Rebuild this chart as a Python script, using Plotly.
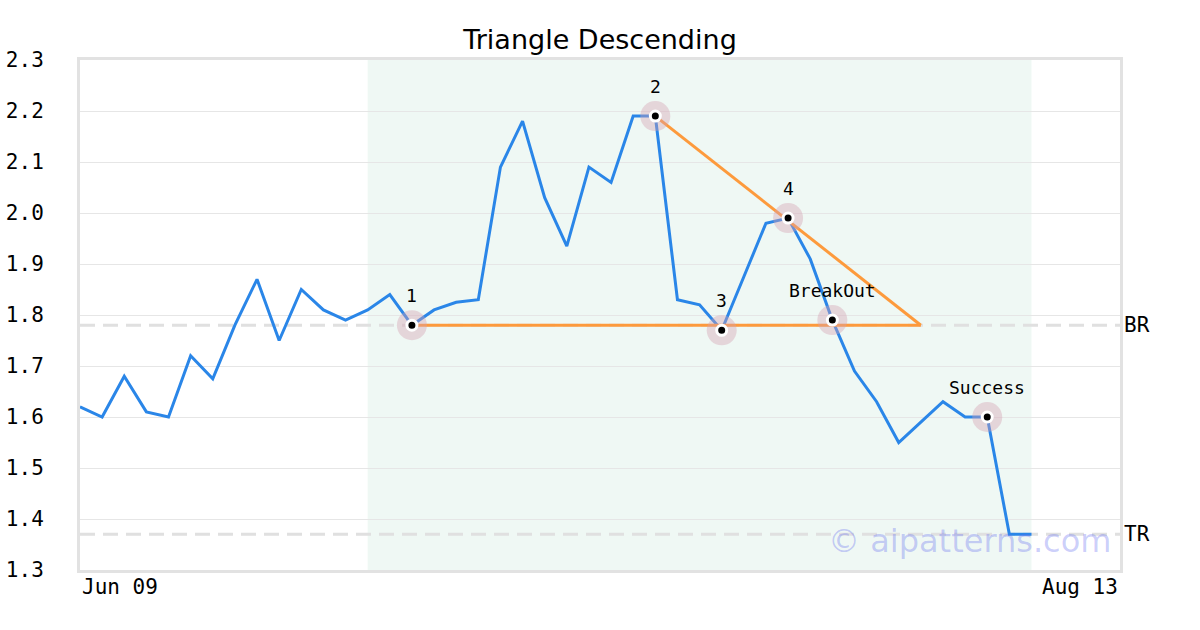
import plotly.graph_objects as go

# ---- data ----
title = "Triangle Descending"
x_tick_labels = ["Jun 09", "Aug 13"]
x_tick_pos = [0, 47]
prices = [1.62, 1.60, 1.68, 1.61, 1.60, 1.72, 1.675, 1.78, 1.87, 1.75,
          1.85, 1.81, 1.79, 1.81, 1.84, 1.78, 1.81, 1.825, 1.83, 2.09,
          2.18, 2.03, 1.935, 2.09, 2.06, 2.19, 2.19, 1.83, 1.82, 1.77,
          1.875, 1.98, 1.99, 1.91, 1.79, 1.69, 1.63, 1.55, 1.59, 1.63,
          1.60, 1.60, 1.37, 1.37]
idx = list(range(len(prices)))
pattern_start, pattern_end = 13, 43
point_labels = ["1", "2", "3", "4", "BreakOut", "Success"]
point_idx = [15, 26, 29, 32, 34, 41]
point_vals = [1.78, 2.19, 1.77, 1.99, 1.79, 1.60]
support_x = [15, 38]
support_y = [1.78, 1.78]
resist_x = [26, 38]
resist_y = [2.19, 1.78]
level_names = ["BR", "TR"]
level_vals = [1.78, 1.37]
y_ticks = [1.3, 1.4, 1.5, 1.6, 1.7, 1.8, 1.9, 2.0, 2.1, 2.2, 2.3]

MONO = "DejaVu Sans Mono"
SANS = "DejaVu Sans"

fig = go.Figure()

# price line
fig.add_trace(go.Scatter(x=idx, y=prices, mode="lines",
                         line=dict(color="#2a86e8", width=3),
                         hoverinfo="skip", showlegend=False))
# triangle lines
fig.add_trace(go.Scatter(x=support_x, y=support_y, mode="lines",
                         line=dict(color="#fd9a3c", width=3),
                         hoverinfo="skip", showlegend=False))
fig.add_trace(go.Scatter(x=resist_x, y=resist_y, mode="lines",
                         line=dict(color="#fd9a3c", width=3),
                         hoverinfo="skip", showlegend=False))
# halos
fig.add_trace(go.Scatter(x=point_idx, y=point_vals, mode="markers",
                         marker=dict(size=30, color="rgba(212,160,178,0.40)",
                                     line=dict(width=0)),
                         hoverinfo="skip", showlegend=False))
# dots
fig.add_trace(go.Scatter(x=point_idx, y=point_vals, mode="markers",
                         marker=dict(size=10, color="black",
                                     line=dict(width=3, color="white")),
                         hoverinfo="skip", showlegend=False))

shapes = [dict(type="rect", xref="x", yref="paper", x0=pattern_start, x1=pattern_end,
               y0=0, y1=1, fillcolor="#eff8f4", line=dict(width=0), layer="below")]
for v in level_vals:
    shapes.append(dict(type="line", xref="paper", yref="y", x0=0, x1=1, y0=v, y1=v,
                       line=dict(color="#e0e0e0", width=3, dash="15px,8px"),
                       layer="below"))

annotations = []
for lbl, xi, yv in zip(point_labels, point_idx, point_vals):
    annotations.append(dict(x=xi, y=yv, xref="x", yref="y", text=lbl, showarrow=False,
                            yshift=30, font=dict(family=MONO, size=18, color="black")))
for name, v in zip(level_names, level_vals):
    annotations.append(dict(x=1, y=v, xref="paper", yref="y", text=name, showarrow=False,
                            xanchor="left", xshift=2,
                            font=dict(family=MONO, size=21, color="black")))
for lbl, xp, anc in zip(x_tick_labels, x_tick_pos, ["left", "right"]):
    annotations.append(dict(x=xp, y=0, xref="x", yref="paper", text=lbl, showarrow=False,
                            xanchor=anc, yanchor="middle", yshift=-17,
                            font=dict(family=MONO, size=21, color="black")))
annotations.append(dict(x=0.855, y=1.37, xref="paper", yref="y", text="© aipatterns.com",
                        showarrow=False, xanchor="center", yanchor="middle", yshift=-7,
                        font=dict(family=SANS, size=32, color="rgba(95,105,240,0.33)")))

fig.update_layout(
    width=1200, height=630,
    margin=dict(l=80, r=80, t=60, b=60, autoexpand=False),
    paper_bgcolor="white", plot_bgcolor="white",
    title=dict(text=title, x=0.5, xanchor="center", y=1 - 40 / 630, yanchor="middle",
               font=dict(family=SANS, size=27, color="black")),
    shapes=shapes, annotations=annotations,
    xaxis=dict(range=[0, 47], showgrid=False, zeroline=False, showticklabels=False,
               automargin=False,
               showline=True, linecolor="#e2e2e2", linewidth=3, mirror=True, ticks=""),
    yaxis=dict(range=[1.3, 2.3], tickvals=y_ticks, ticktext=[f"{t:.1f}" for t in y_ticks],
               showgrid=True, gridcolor="#e6e6e6", gridwidth=1, zeroline=False,
               automargin=False,
               showline=True, linecolor="#e2e2e2", linewidth=3, mirror=True, ticks="",
               ticklabelstandoff=29,
               tickfont=dict(family=MONO, size=21, color="black")),
)

fig.write_html("out.html", config={"displayModeBar": False},
               post_script="document.body.style.margin='0';document.body.style.overflow='hidden';")
